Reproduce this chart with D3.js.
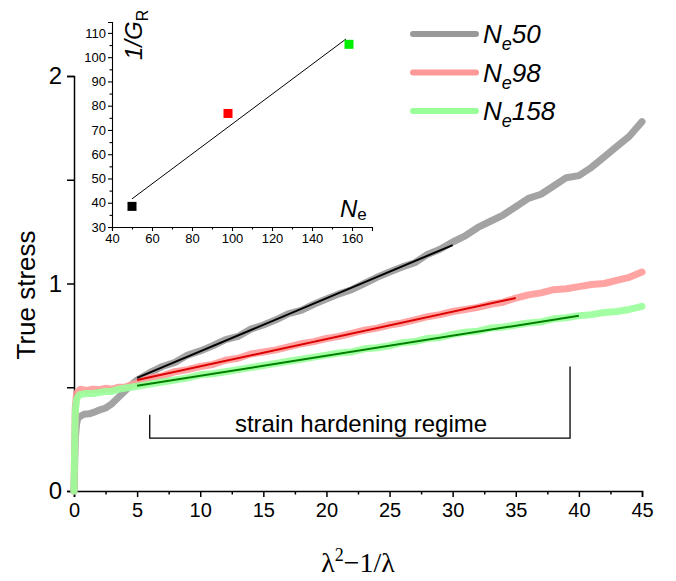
<!DOCTYPE html>
<html><head><meta charset="utf-8">
<script src="https://cdn.jsdelivr.net/npm/d3@7"></script>
<style>body{margin:0;background:#fff}svg{display:block}</style>
</head><body><svg id="c" width="676" height="581" style="font-family:'Liberation Sans',Arial,sans-serif"></svg>
<script>
// ---------- data ----------
const seriesNames = ["Ne50", "Ne98", "Ne158"];
const legendNumbers = ["50", "98", "158"];
const curveColors = ["#999999", "#ff9999", "#99ff99"];
const fitColors = ["#000000", "#dd0000", "#008000"];

const xNe50 = [0,0.05,0.1,0.2,0.3,0.5,0.8,1.2,1.6,2.0,2.5,3.0,3.5,4.0,4.5,5,6,7,8,9,10,11,12,13,14,15,16,17,18,19,20,21,22,23,24,25,26,27,28,29,30,31,32,33,34,35,36,37,38,39,40,41,42,43,44,45];
const yNe50 = [0,0.12,0.25,0.32,0.35,0.36,0.37,0.372,0.38,0.39,0.40,0.42,0.45,0.48,0.51,0.535,0.57,0.60,0.62,0.655,0.675,0.70,0.73,0.745,0.78,0.80,0.825,0.855,0.87,0.90,0.925,0.95,0.97,1.0,1.03,1.055,1.08,1.10,1.14,1.165,1.20,1.23,1.27,1.30,1.33,1.37,1.41,1.43,1.47,1.51,1.52,1.56,1.61,1.66,1.71,1.78];

const xNe98 = [0,0.05,0.1,0.2,0.3,0.5,1,1.5,2,2.5,3,3.5,4,4.5,5,6,7,8,9,10,11,12,13,14,15,16,17,18,19,20,21,22,23,24,25,26,27,28,29,30,31,32,33,34,35,36,37,38,39,40,41,42,43,44,45];
const yNe98 = [0,0.2,0.4,0.47,0.48,0.49,0.485,0.49,0.488,0.495,0.49,0.5,0.5,0.51,0.52,0.545,0.555,0.575,0.585,0.60,0.61,0.63,0.64,0.66,0.67,0.68,0.695,0.71,0.72,0.735,0.745,0.76,0.775,0.785,0.80,0.81,0.825,0.84,0.85,0.865,0.875,0.885,0.90,0.91,0.93,0.945,0.955,0.97,0.975,0.985,0.995,1.0,1.015,1.03,1.055];

const xNe158 = [0,0.05,0.1,0.2,0.3,0.5,1,1.5,2,2.5,3,3.5,4,4.5,5,6,7,8,9,10,11,12,13,14,15,16,17,18,19,20,21,22,23,24,25,26,27,28,29,30,31,32,33,34,35,36,37,38,39,40,41,42,43,44,45];
const yNe158 = [0,0.2,0.38,0.44,0.455,0.465,0.47,0.47,0.475,0.48,0.48,0.49,0.495,0.5,0.505,0.515,0.525,0.535,0.545,0.56,0.565,0.575,0.585,0.595,0.605,0.615,0.625,0.635,0.645,0.655,0.665,0.67,0.685,0.69,0.70,0.715,0.72,0.735,0.74,0.755,0.765,0.77,0.785,0.79,0.80,0.81,0.815,0.83,0.835,0.845,0.85,0.86,0.865,0.875,0.89];

// linear fits (start x, start y, end x, end y)
const fitX0 = [5, 5, 5];
const fitY0 = [0.545, 0.535, 0.507];
const fitX1 = [30, 35, 40];
const fitY1 = [1.185, 0.93, 0.845];

const xTicks = [0,5,10,15,20,25,30,35,40,45];
const yTicks = [0,1,2];

// inset data
const insetNe = [50, 98, 158.5];
const insetInvG = [38.5, 76.8, 105.3];
const insetColors = ["#000000", "#ff0000", "#00ee00"];
const insetFitX = [50, 157];
const insetFitY = [41.6, 107.5];
const insetXTicks = [40,60,80,100,120,140,160];
const insetYTicks = [30,40,50,60,70,80,90,100,110];

// bracket
const bracketX = [6.0, 39.3];
const bracketYLeft = 0.367, bracketYRight = 0.60, bracketYBottom = 0.255;

// ---------- chart ----------
const svg = d3.select("#c");
const x = d3.scaleLinear().domain([0,45]).range([74,642]);
const y = d3.scaleLinear().domain([0,2]).range([491,76]);

// main axes
const gx = svg.append("g").attr("transform","translate(0,491)")
  .call(d3.axisBottom(x).tickValues(xTicks).tickSize(6).tickPadding(6).tickFormat(d3.format("d")));
gx.attr("font-size",20).attr("font-family",null);
const gxm = svg.append("g").attr("transform","translate(0,491)")
  .call(d3.axisBottom(x).tickValues(d3.range(2.5,45,5)).tickSize(3.5).tickFormat(""));
gxm.select(".domain").remove();

const gy = svg.append("g").attr("transform","translate(74,0)")
  .call(d3.axisLeft(y).tickValues(yTicks).tickSize(7).tickPadding(5).tickFormat(d3.format("d")));
gy.attr("font-size",24).attr("font-family",null);
const gym = svg.append("g").attr("transform","translate(74,0)")
  .call(d3.axisLeft(y).tickValues([0.5,1.5]).tickSize(7).tickFormat(""));
gym.select(".domain").remove();
svg.selectAll(".domain, .tick line").attr("stroke","#000").attr("stroke-width",1.5);

// axis labels
svg.append("text").attr("transform","translate(35,295) rotate(-90)").attr("text-anchor","middle")
  .attr("font-size",26).text("True stress");
const serif = "'Liberation Serif','Times New Roman',Times,serif";
const xl = svg.append("text").attr("x",358).attr("y",572).attr("text-anchor","middle")
  .attr("font-size",28).style("font-family",serif);
xl.append("tspan").style("font-family",serif).text("λ");
xl.append("tspan").style("font-family",serif).attr("dy",-11).attr("font-size",18).text("2");
xl.append("tspan").style("font-family",serif).attr("dy",11).text("\u22121/λ");

// curves
const xs = [xNe50, xNe98, xNe158], ys = [yNe50, yNe98, yNe158];
const line = d3.line().x(d=>x(d[0])).y(d=>y(d[1]));
seriesNames.forEach((n,i)=>{
  const pts = xs[i].map((v,j)=>[v, ys[i][j]]);
  svg.append("path").attr("d",line(pts)).attr("fill","none")
    .attr("stroke",curveColors[i]).attr("stroke-width",7).attr("stroke-linejoin","round").attr("stroke-linecap","round")
    .attr("opacity",0.9);
});
seriesNames.forEach((n,i)=>{
  svg.append("path").attr("d",line([[fitX0[i],fitY0[i]],[fitX1[i],fitY1[i]]])).attr("fill","none")
    .attr("stroke",fitColors[i]).attr("stroke-width",2);
});

// bracket
svg.append("path").attr("fill","none").attr("stroke","#000").attr("stroke-width",1.3)
  .attr("d",`M${x(bracketX[0])},${y(bracketYLeft)}V${y(bracketYBottom)}H${x(bracketX[1])}V${y(bracketYRight)}`);
svg.append("text").attr("x",361).attr("y",432).attr("text-anchor","middle")
  .attr("font-size",24).text("strain hardening regime");

// legend
seriesNames.forEach((n,i)=>{
  const ly = 34 + i*38.5;
  svg.append("line").attr("x1",413).attr("x2",476).attr("y1",ly).attr("y2",ly)
    .attr("stroke",curveColors[i]).attr("stroke-width",6).attr("stroke-linecap","round");
  const t = svg.append("text").attr("x",483).attr("y",ly+9).attr("font-size",26).attr("font-style","italic");
  t.append("tspan").text("N");
  t.append("tspan").attr("dy",7).attr("font-size",18).text("e");
  t.append("tspan").attr("dy",-7).text(legendNumbers[i]);
});

// inset
const ix = d3.scaleLinear().domain([40,170]).range([112,372]);
const iy = d3.scaleLinear().domain([30,114.5]).range([227,22]);
const igx = svg.append("g").attr("transform","translate(0,227)")
  .call(d3.axisBottom(ix).tickValues(insetXTicks).tickSize(4).tickPadding(3).tickFormat(d3.format("d")));
igx.attr("font-size",13).attr("font-family",null);
const igxm = svg.append("g").attr("transform","translate(0,227)")
  .call(d3.axisBottom(ix).tickValues(d3.range(50,170,20)).tickSize(2.5).tickFormat(""));
igxm.select(".domain").remove();
const igy = svg.append("g").attr("transform","translate(112,0)")
  .call(d3.axisLeft(iy).tickValues(insetYTicks).tickSize(4).tickPadding(2).tickFormat(d3.format("d")));
igy.attr("font-size",13).attr("font-family",null);
const igym = svg.append("g").attr("transform","translate(112,0)")
  .call(d3.axisLeft(iy).tickValues(d3.range(35,115,10)).tickSize(2.5).tickFormat(""));
igym.select(".domain").remove();
[igx,igxm,igy,igym].forEach(g=>g.selectAll(".domain, .tick line").attr("stroke","#000").attr("stroke-width",1.1));

svg.append("path").attr("d",d3.line().x(d=>ix(d[0])).y(d=>iy(d[1]))(insetFitX.map((v,j)=>[v,insetFitY[j]])))
  .attr("stroke","#000").attr("stroke-width",1).attr("fill","none");
insetNe.forEach((v,i)=>{
  svg.append("rect").attr("x",ix(v)-4.5).attr("y",iy(insetInvG[i])-4.5).attr("width",9).attr("height",9)
    .attr("fill",insetColors[i]);
});
const il = svg.append("text").attr("transform","translate(142,60) rotate(-90)").attr("font-size",24).attr("font-style","italic");
il.append("tspan").text("1/G");
il.append("tspan").attr("dy",6).attr("font-size",16).attr("font-style","normal").text("R");
const nl = svg.append("text").attr("x",340).attr("y",217).attr("font-size",24).attr("font-style","italic");
nl.append("tspan").text("N");
nl.append("tspan").attr("dy",3).attr("font-size",17).attr("font-style","normal").text("e");
</script></body></html>
